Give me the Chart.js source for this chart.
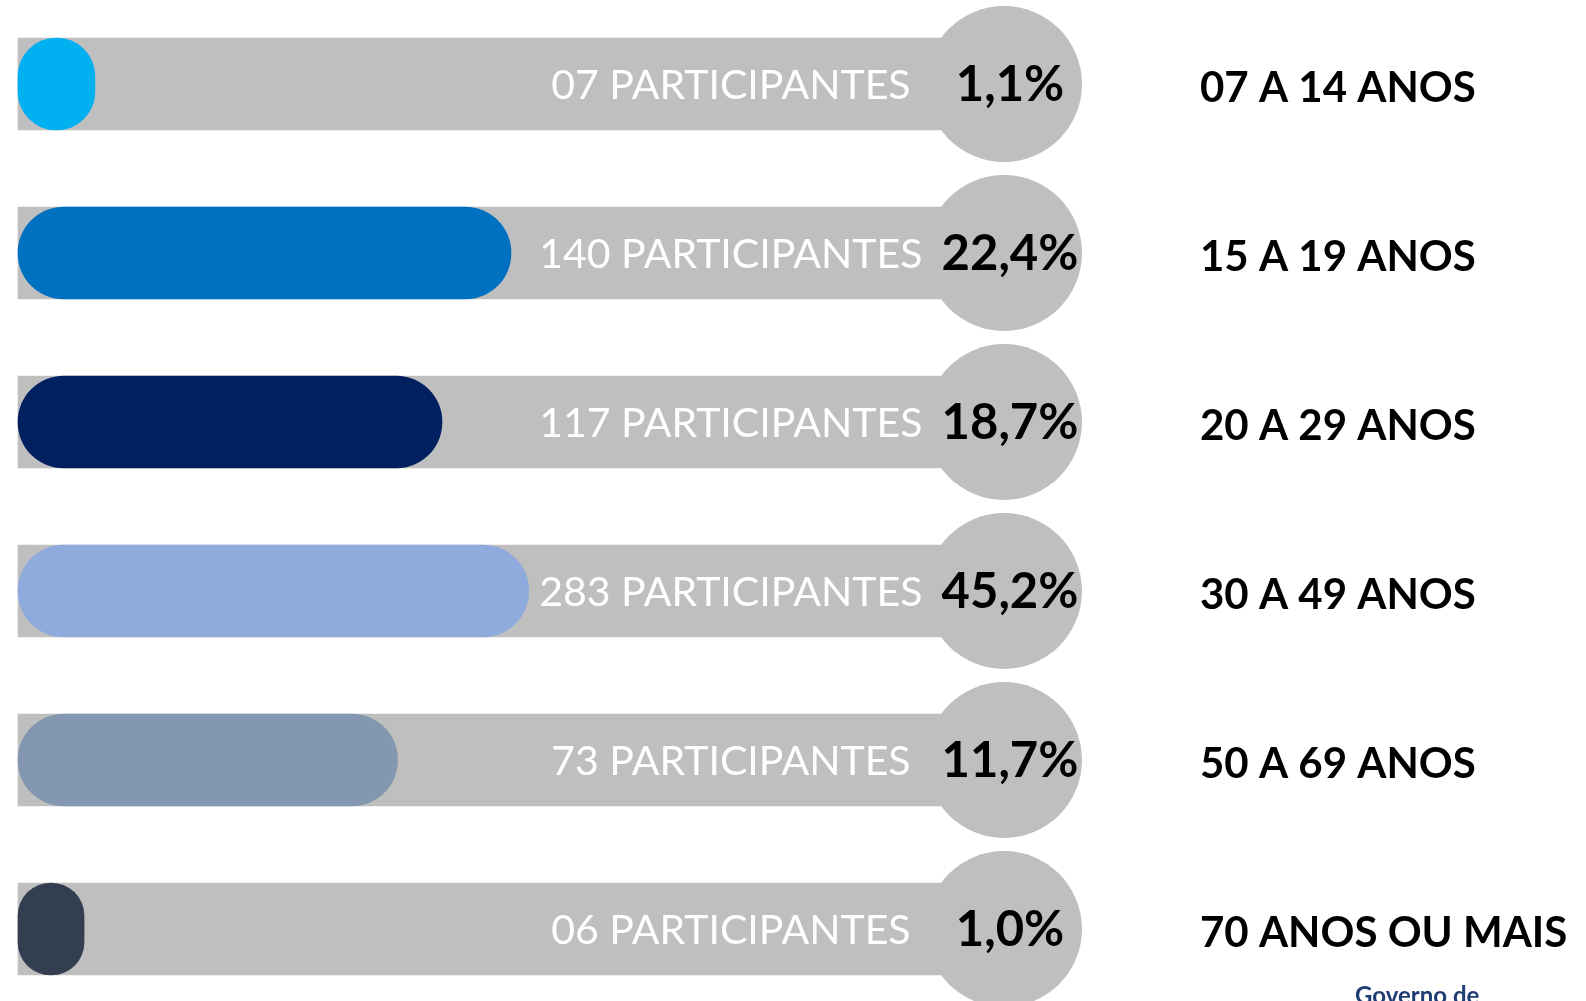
<!DOCTYPE html>
<html>
<head>
<meta charset="utf-8">
<script src="https://cdn.jsdelivr.net/npm/chart.js@4/dist/chart.umd.min.js"></script>
<style>
  html, body { margin: 0; padding: 0; background: #fff; }
  #wrap { width: 1586px; height: 1001px; position: relative; }
</style>
</head>
<body>
<div id="wrap"><canvas id="faixas"></canvas></div>
<script>
// faixas etárias
const categorias = ['07 A 14 ANOS', '15 A 19 ANOS', '20 A 29 ANOS', '30 A 49 ANOS', '50 A 69 ANOS', '70 ANOS OU MAIS'];
const participantes = ['07', '140', '117', '283', '73', '06'];
const percentuais = ['1,1%', '22,4%', '18,7%', '45,2%', '11,7%', '1,0%'];
// comprimento das barras coloridas (escala 0-100 do trilho)
const barras = [7.8, 50, 43, 51.8, 38.5, 6.7];
const trilho = [100, 100, 100, 100, 100, 100];
const cores = ['#00B0F0', '#0070C0', '#002060', '#8FAADC', '#8497B0', '#333F50'];

const cinza = '#BFBFBF';

// circulos + textos
const rotulosPlugin = {
    id: 'rotulos',
    afterDatasetsDraw(chart) {
        let ctx = chart.ctx;
        let x = chart.scales.x;
        let y = chart.scales.y;
        let cx = x.getPixelForValue(100);

        ctx.save();
        categorias.forEach((cat, i) => {
            let cy = y.getPixelForValue(i);

            ctx.beginPath();
            ctx.arc(cx, cy, 78, 0, Math.PI * 2);
            ctx.fillStyle = cinza;
            ctx.fill();

            ctx.textBaseline = 'middle';

            ctx.fillStyle = '#fff';
            ctx.textAlign = 'center';
            ctx.font = '41px Lato';
            ctx.fillText(participantes[i] + ' PARTICIPANTES', x.getPixelForValue(72.3), cy + 2);

            ctx.fillStyle = '#000';
            ctx.font = 'bold 49px Lato';
            ctx.fillText(percentuais[i], cx + 6, cy + 1);

            ctx.textAlign = 'left';
            ctx.font = 'bold 42px Lato';
            ctx.fillText(cat, 1200, cy + 4);
        });

        // logo no rodapé (cortado pela borda)
        ctx.fillStyle = '#1F3C73';
        ctx.font = 'bold 24px Lato';
        ctx.textAlign = 'left';
        ctx.textBaseline = 'alphabetic';
        ctx.fillText('Governo de', 1355, 1004);
        ctx.restore();
    }
};

let ctx = document.getElementById('faixas').getContext('2d');
new Chart(ctx, {
    type: 'bar',
    data: {
        labels: categorias,
        datasets: [
            {
                label: 'Participantes',
                data: barras,
                backgroundColor: cores,
                borderRadius: 46,
                borderSkipped: false,
                barThickness: 92,
                order: 0,
                clip: false
            },
            {
                label: 'Trilho',
                data: trilho,
                backgroundColor: cinza,
                barThickness: 92,
                order: 1,
                clip: false
            }
        ]
    },
    options: {
        indexAxis: 'y',
        responsive: true,
        maintainAspectRatio: false,
        animation: false,
        layout: {
            padding: { left: 18, right: 582, top: 84, bottom: 72 }
        },
        scales: {
            x: { min: 0, max: 100, display: false },
            y: { stacked: true, offset: false, display: false }
        },
        plugins: {
            legend: { display: false },
            tooltip: { enabled: false }
        }
    },
    plugins: [rotulosPlugin]
});
</script>
</body>
</html>
